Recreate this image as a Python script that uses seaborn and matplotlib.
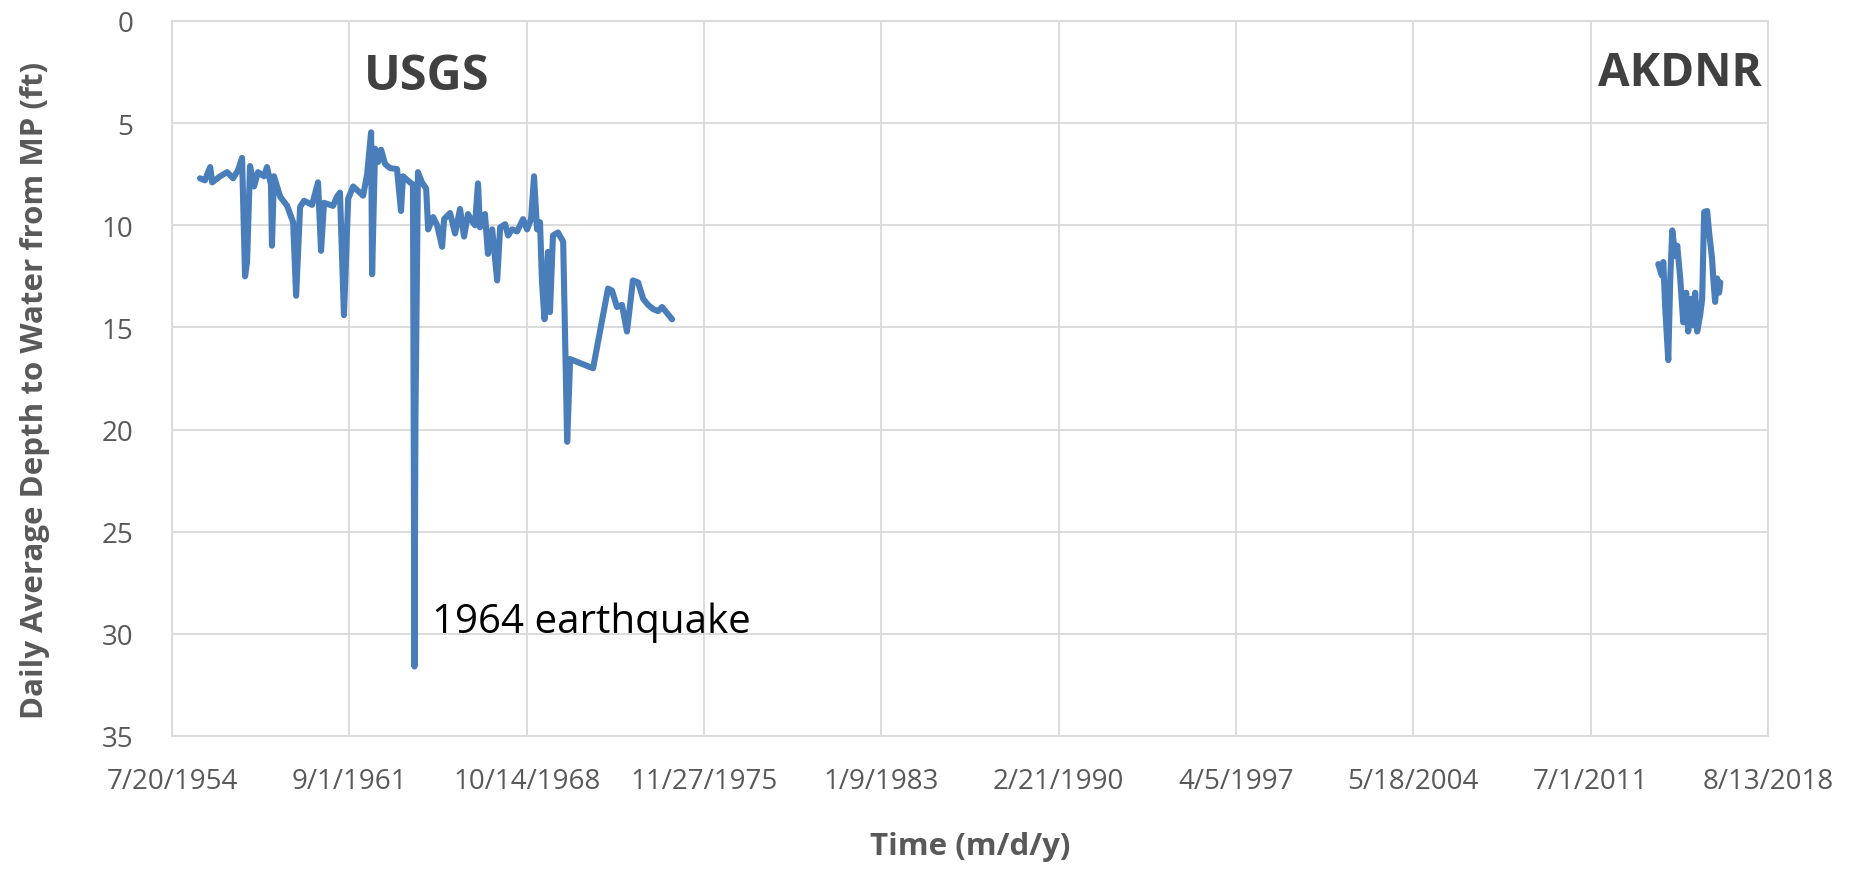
import numpy as np
import pandas as pd
import matplotlib
matplotlib.use("Agg")
import matplotlib.pyplot as plt
import seaborn as sns

# ---- data (decimal year, depth to water in ft) ----
usgs_year = [1955.67, 1955.87, 1956.08, 1956.16, 1956.48, 1956.76, 1957.00, 1957.20, 1957.36, 1957.48,
             1957.56, 1957.68, 1957.84, 1958.00, 1958.24, 1958.36, 1958.52, 1958.56, 1958.64, 1958.89,
             1959.17, 1959.41, 1959.53, 1959.69, 1959.85, 1960.17, 1960.41, 1960.53, 1960.65, 1961.01,
             1961.17, 1961.29, 1961.45, 1961.62, 1961.82, 1962.22, 1962.38, 1962.54, 1962.58, 1962.70,
             1962.82, 1962.94, 1963.10, 1963.30, 1963.58, 1963.74, 1963.82, 1964.10, 1964.22, 1964.28,
             1964.32, 1964.42, 1964.58, 1964.75, 1964.83, 1965.03, 1965.19, 1965.39, 1965.47, 1965.71,
             1965.91, 1966.11, 1966.27, 1966.43, 1966.59, 1966.71, 1966.83, 1966.91, 1967.11, 1967.23,
             1967.40, 1967.60, 1967.72, 1967.92, 1968.04, 1968.20, 1968.40, 1968.64, 1968.80, 1968.96,
             1969.08, 1969.20, 1969.32, 1969.40, 1969.50, 1969.64, 1969.72, 1969.84, 1970.04, 1970.25,
             1970.41, 1970.53, 1971.45, 1972.05, 1972.21, 1972.41, 1972.61, 1972.81, 1973.05, 1973.26,
             1973.46, 1973.66, 1973.86, 1974.06, 1974.22, 1974.42, 1974.62]
usgs_depth = [7.7, 7.8, 7.15, 7.9, 7.6, 7.4, 7.7, 7.3, 6.7, 12.5,
              11.8, 7.1, 8.1, 7.4, 7.6, 7.15, 8.0, 11.0, 7.6, 8.6,
              9.05, 9.85, 13.45, 9.1, 8.8, 9.0, 7.9, 11.25, 8.9, 9.05,
              8.6, 8.4, 14.4, 8.7, 8.1, 8.55, 7.5, 5.45, 12.4, 6.25,
              6.9, 6.3, 7.0, 7.2, 7.25, 9.3, 7.6, 7.9, 8.0, 31.6,
              19.4, 7.4, 7.9, 8.2, 10.2, 9.6, 10.0, 11.05, 9.7, 9.4,
              10.4, 9.2, 10.55, 9.45, 9.8, 10.0, 7.95, 10.1, 9.45, 11.4,
              10.2, 12.7, 10.1, 9.95, 10.5, 10.2, 10.3, 9.7, 10.2, 9.7,
              7.6, 10.2, 9.85, 12.8, 14.6, 11.3, 14.25, 10.5, 10.35, 10.8,
              20.6, 16.55, 17.0, 13.1, 13.2, 14.0, 13.9, 15.2, 12.7, 12.8,
              13.6, 13.9, 14.1, 14.2, 14.0, 14.3, 14.6]

akdnr_year = [2014.21, 2014.35, 2014.41, 2014.49, 2014.61, 2014.69, 2014.77, 2014.89, 2014.97, 2015.09,
              2015.21, 2015.33, 2015.41, 2015.53, 2015.61, 2015.69, 2015.77, 2015.89, 2015.97, 2016.05,
              2016.17, 2016.25, 2016.37, 2016.41, 2016.49, 2016.57, 2016.65, 2016.70]
akdnr_depth = [11.9, 12.45, 11.8, 14.1, 16.6, 12.6, 10.25, 11.5, 11.0, 12.6,
               14.75, 13.3, 15.2, 13.6, 14.9, 13.3, 15.2, 14.4, 13.6, 9.35,
               9.3, 10.35, 11.65, 12.5, 13.75, 12.6, 13.3, 12.8]

tick_start = "1954-07-20"
tick_step_days = 2600
n_ticks = 10
y_ticks = [0, 5, 10, 15, 20, 25, 30, 35]

labels_text = {"usgs": "USGS", "akdnr": "AKDNR", "quake": "1964 earthquake"}


def to_dates(years):
    base = pd.Timestamp("1954-01-01")
    return [base + pd.Timedelta(days=(y - 1954.0) * 365.25) for y in years]


df_usgs = pd.DataFrame({"date": to_dates(usgs_year), "depth": usgs_depth})
df_akdnr = pd.DataFrame({"date": to_dates(akdnr_year), "depth": akdnr_depth})

sns.set_theme(style="white")
plt.rcParams["font.family"] = ["Open Sans", "DejaVu Sans"]

grey = "#595959"
line_col = "#4A7EBB"

fig = plt.figure(figsize=(18.55, 8.7), dpi=100)
ax = fig.add_axes([172 / 1855, 1 - 737 / 870, (1768 - 172) / 1855, (737 - 22) / 870])

sns.lineplot(data=df_usgs, x="date", y="depth", ax=ax, color=line_col, linewidth=4.4,
             estimator=None, sort=False, legend=False)
sns.lineplot(data=df_akdnr, x="date", y="depth", ax=ax, color=line_col, linewidth=4.4,
             estimator=None, sort=False, legend=False)

ticks = pd.date_range(start=tick_start, periods=n_ticks, freq=f"{tick_step_days}D")
ax.set_xticks(ticks)
ax.set_xticklabels([f"{d.month}/{d.day}/{d.year}" for d in ticks])
ax.set_xlim(ticks[0], ticks[-1])

ax.set_yticks(y_ticks)
ax.set_ylim(35, 0)

ax.grid(True, color="#d9d9d9", linewidth=1.3)
ax.set_axisbelow(True)
for s in ax.spines.values():
    s.set_color("#d9d9d9")
    s.set_linewidth(1.3)

ax.tick_params(axis="both", which="both", length=0, labelsize=20, labelcolor=grey)
ax.tick_params(axis="x", pad=22)
ax.tick_params(axis="y", pad=28)

ax.set_xlabel("Time (m/d/y)", fontsize=22.5, fontweight="bold", color=grey, labelpad=26)
ax.set_ylabel("Daily Average Depth to Water from MP (ft)", fontsize=22.5, fontweight="bold",
              color=grey)
ax.yaxis.set_label_coords(-0.0764, 0.485)

ax.text(pd.Timestamp("1964-10-10"), 2.7, labels_text["usgs"], fontsize=35, fontweight="bold",
        color="#404040", ha="center", va="center")
ax.text(pd.Timestamp("2018-05-10"), 2.5, labels_text["akdnr"], fontsize=33, fontweight="bold",
        color="#404040", ha="right", va="center")
ax.text(pd.Timestamp("1964-12-20"), 29.4, labels_text["quake"], fontsize=29,
        color="black", ha="left", va="center")

fig.savefig("out.png", dpi=100)
